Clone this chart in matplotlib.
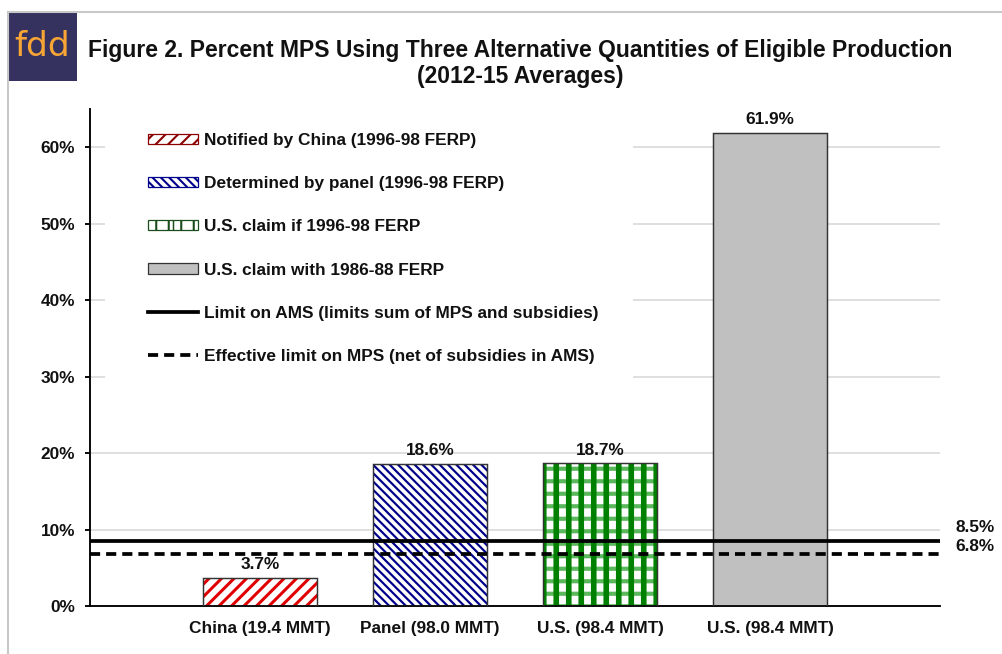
import matplotlib
matplotlib.use("Agg")
import matplotlib.pyplot as plt
from matplotlib.patches import Patch, Rectangle
from matplotlib.lines import Line2D
from matplotlib.legend_handler import HandlerTuple
from matplotlib.ticker import FuncFormatter

# ---------------- data ----------------
categories = ["China (19.4 MMT)", "Panel (98.0 MMT)", "U.S. (98.4 MMT)", "U.S. (98.4 MMT)"]
mps_values = [3.7, 18.6, 18.7, 61.9]
bar_labels = ["3.7%", "18.6%", "18.7%", "61.9%"]
series_names = ["Notified by China (1996-98 FERP)",
                "Determined by panel (1996-98 FERP)",
                "U.S. claim if 1996-98 FERP",
                "U.S. claim with 1986-88 FERP"]
ams_limit = 8.5
mps_limit = 6.8
limit_names = ["Limit on AMS (limits sum of MPS and subsidies)",
               "Effective limit on MPS (net of subsidies in AMS)"]
yticks = [0, 10, 20, 30, 40, 50, 60]
title_line1 = "Figure 2. Percent MPS Using Three Alternative Quantities of Eligible Production"
title_line2 = "(2012-15 Averages)"

# ---------------- style ----------------
DPI = 150
plt.rcParams['font.family'] = ['Liberation Sans', 'DejaVu Sans']
FS = 8.3

RED = "#e00000"
BLUE = "#00008b"
DGREEN = "#008000"
LGREEN = "#5cb85c"
GREY = "#c0c0c0"

HATCH_RED = "////"
HATCH_BLUE = "\\\\\\\\\\\\"
HATCH_G_H = "--"
HATCH_G_V = "||"

fig = plt.figure(figsize=(1002 / DPI, 654 / DPI), dpi=DPI)
W, H = 1002, 654

def fx(px):
    return px / W

def fy(py):
    return 1 - py / H

ax = fig.add_axes([fx(90), fy(606), fx(940) - fx(90), fy(109) - fy(606)])

x = list(range(len(categories)))
width = 0.67

def hatched_bars(xs, hs, hatch, color, hlw, face="white"):
    with plt.rc_context({'hatch.linewidth': hlw, 'hatch.color': color}):
        bars = ax.bar(xs, hs, width=width, color=face, edgecolor=color,
                      linewidth=0, hatch=hatch, zorder=2)
    for b in bars:
        if hasattr(b, "set_hatch_linewidth"):
            b.set_hatch_linewidth(hlw)
    return bars

hatched_bars([x[0]], [mps_values[0]], HATCH_RED, RED, 1.45)
hatched_bars([x[1]], [mps_values[1]], HATCH_BLUE, BLUE, 1.05)
hatched_bars([x[2]], [mps_values[2]], HATCH_G_H, LGREEN, 2.0)
hatched_bars([x[2]], [mps_values[2]], HATCH_G_V, DGREEN, 2.7, face="none")
ax.bar([x[3]], [mps_values[3]], width=width, color=GREY, edgecolor="none", zorder=2)
ax.bar(x, mps_values, width=width, color="none", edgecolor="#333333", linewidth=0.7, zorder=3)

for xi, v, lab in zip(x, mps_values, bar_labels):
    ax.annotate(lab, (xi, v), xytext=(0, 2.6), textcoords="offset points",
                ha="center", va="bottom", fontsize=FS, fontweight="bold", color="#111111")

# limit lines
ax.axhline(ams_limit, color="black", lw=1.8, zorder=4)
dl = ax.axhline(mps_limit, color="black", lw=1.8, zorder=4)
dl.set_dashes((2.7, 1.6))

ax.annotate("8.5%", xy=(1, ams_limit), xycoords=("axes fraction", "data"),
            xytext=(7.2, 6.5), textcoords="offset points", ha="left", va="center",
            fontsize=FS, fontweight="bold", color="#111111", annotation_clip=False)
ax.annotate("6.8%", xy=(1, mps_limit), xycoords=("axes fraction", "data"),
            xytext=(7.2, 3.4), textcoords="offset points", ha="left", va="center",
            fontsize=FS, fontweight="bold", color="#111111", annotation_clip=False)

# axes
ax.set_xlim(-1, 4)
ax.set_ylim(0, 65)
ax.set_yticks(yticks)
ax.yaxis.set_major_formatter(FuncFormatter(lambda v, p: f"{v:.0f}%"))
ax.set_xticks(x)
ax.set_xticklabels(categories)
ax.tick_params(axis="x", length=0, pad=7.0, labelsize=FS)
ax.tick_params(axis="y", length=2.4, width=0.9, pad=4.8, labelsize=FS, direction="out")
for lab in ax.get_xticklabels() + ax.get_yticklabels():
    lab.set_fontweight("bold")
    lab.set_color("#111111")
ax.grid(axis="y", color="#d9d9d9", lw=0.8)
ax.set_axisbelow(True)
for s in ["top", "right"]:
    ax.spines[s].set_visible(False)
ax.spines["left"].set_linewidth(0.9)
ax.spines["bottom"].set_linewidth(0.9)

# white area behind legend
ax.add_patch(Rectangle(((105 - 90) / 850, (606 - 385) / 497), (633 - 105) / 850, (385 - 118) / 497,
                       transform=ax.transAxes, facecolor="white", edgecolor="none", zorder=1))

# legend
def proxy(hatch, color, hlw, face="white", ec=None):
    with plt.rc_context({'hatch.linewidth': hlw, 'hatch.color': color}):
        p = Patch(facecolor=face, edgecolor=ec if ec else color, hatch=hatch, linewidth=0.6)
    if hasattr(p, "set_hatch_linewidth"):
        p.set_hatch_linewidth(hlw)
    return p

h_red = proxy(HATCH_RED, RED, 1.45, ec="#8b0000")
h_blue = proxy(HATCH_BLUE, BLUE, 1.05)
h_g1 = proxy("++", LGREEN, 1.2, face="white", ec="#1a4d1a")
h_g2 = proxy(HATCH_G_V, DGREEN, 2.7, face="none", ec="#1a4d1a")
h_grey = Patch(facecolor=GREY, edgecolor="#333333", linewidth=0.6)
h_ams = Line2D([], [], color="black", lw=1.8)
h_mps = Line2D([], [], color="black", lw=1.8, dashes=(2.7, 1.6))

leg = ax.legend([h_red, h_blue, (h_g1, h_g2), h_grey, h_ams, h_mps],
                series_names + limit_names,
                handler_map={tuple: HandlerTuple(ndivide=None, pad=0)},
                loc="upper left", bbox_to_anchor=((148 - 90) / 850, (606 - 133) / 497),
                frameon=False, borderpad=0, borderaxespad=0,
                fontsize=FS, handlelength=2.9, handleheight=0.55,
                handletextpad=0.36, labelspacing=1.63)
for t in leg.get_texts():
    t.set_fontweight("bold")
    t.set_color("#111111")
leg.set_zorder(6)

# figure decorations: border, logo, title
fig.add_artist(Line2D([fx(8), fx(8)], [0, fy(12)], color="#c8c8c8", lw=1.0))
fig.add_artist(Line2D([fx(8), 1], [fy(12), fy(12)], color="#c8c8c8", lw=1.0))
fig.add_artist(Rectangle((fx(8), fy(81)), fx(77) - fx(8), fy(12) - fy(81),
                         facecolor="#35325f", edgecolor="none", transform=fig.transFigure))
fig.text(fx(42.5), fy(46), "fdd", color="#f7a535", fontsize=16.5, ha="center", va="center",
         family=["DejaVu Sans"])
fig.text(fx(520), fy(50), title_line1, fontsize=11.0, fontweight="bold", ha="center", va="center",
         color="#111111")
fig.text(fx(520), fy(77), title_line2, fontsize=11.0, fontweight="bold", ha="center", va="center",
         color="#111111")

fig.savefig("out.png", dpi=DPI)
